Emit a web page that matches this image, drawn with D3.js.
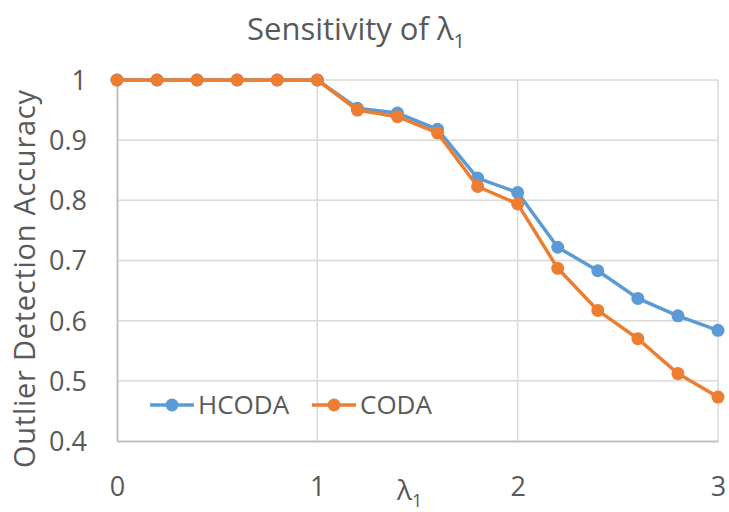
<!DOCTYPE html>
<html>
<head>
<meta charset="utf-8">
<script src="https://cdn.jsdelivr.net/npm/d3@7"></script>
<style>
  html, body { margin: 0; padding: 0; background: #fff; }
  svg { display: block; font-family: "Open Sans", "Lato", sans-serif; }
</style>
</head>
<body>
<svg id="chart" width="729" height="512"></svg>
<script>
// λ1 values swept on the x axis
const lambdaValues = [0, 0.2, 0.4, 0.6, 0.8, 1.0, 1.2, 1.4, 1.6, 1.8, 2.0, 2.2, 2.4, 2.6, 2.8, 3.0];
// Outlier detection accuracy per method
const hcodaAccuracy = [1, 1, 1, 1, 1, 1, 0.953, 0.945, 0.918, 0.837, 0.813, 0.722, 0.683, 0.637, 0.608, 0.584];
const codaAccuracy  = [1, 1, 1, 1, 1, 1, 0.950, 0.939, 0.912, 0.823, 0.794, 0.687, 0.617, 0.570, 0.512, 0.473];
const seriesNames = ["HCODA", "CODA"];
const xTicks = [0, 1, 2, 3];
const yTicks = [0.4, 0.5, 0.6, 0.7, 0.8, 0.9, 1];

const colors = { HCODA: "#5B9BD5", CODA: "#ED7D31" };
const textColor = "#595959";

const svg = d3.select("#chart");
const plot = { left: 117, right: 718, top: 80, bottom: 441 };

const x = d3.scaleLinear().domain([0, 3]).range([plot.left, plot.right]);
const y = d3.scaleLinear().domain([0.4, 1]).range([plot.bottom, plot.top]);

// Title with subscripted λ1
const title = svg.append("text")
  .attr("x", 356).attr("y", 40)
  .attr("text-anchor", "middle")
  .attr("fill", textColor)
  .attr("font-size", 31);
title.append("tspan").text("Sensitivity of λ");
title.append("tspan").attr("font-size", 20).attr("dy", 8).text("1");

// Horizontal gridlines
svg.append("g")
  .selectAll("line")
  .data(yTicks.filter(v => v > 0.4))
  .join("line")
  .attr("x1", plot.left).attr("x2", plot.right)
  .attr("y1", d => y(d)).attr("y2", d => y(d))
  .attr("stroke", "#D9D9D9").attr("stroke-width", 1.5);

// Vertical gridlines
svg.append("g")
  .selectAll("line")
  .data(xTicks.filter(v => v > 0))
  .join("line")
  .attr("x1", d => x(d)).attr("x2", d => x(d))
  .attr("y1", plot.top).attr("y2", plot.bottom)
  .attr("stroke", "#D9D9D9").attr("stroke-width", 1.5);

// Axes (lines only, labels styled separately)
const yAxis = d3.axisLeft(y).tickValues(yTicks).tickSize(0).tickPadding(30)
  .tickFormat(d => d3.format("")(+d.toFixed(1)));
const xAxis = d3.axisBottom(x).tickValues(xTicks).tickSize(0).tickPadding(36)
  .tickFormat(d3.format("d"));

const gy = svg.append("g").attr("transform", `translate(${plot.left},0)`).call(yAxis);
const gx = svg.append("g").attr("transform", `translate(0,${plot.bottom})`).call(xAxis);
[gx, gy].forEach(g => {
  g.select(".domain").attr("stroke", "#BFBFBF").attr("stroke-width", 2);
  g.selectAll(".tick text").attr("fill", textColor).attr("font-size", 27)
    .attr("font-family", "'Open Sans', sans-serif");
});
gy.selectAll(".tick text").attr("dy", "0.35em");

// X axis title λ1
const xTitle = svg.append("text")
  .attr("x", 397).attr("y", 500)
  .attr("fill", textColor)
  .attr("font-size", 28);
xTitle.append("tspan").text("λ");
xTitle.append("tspan").attr("font-size", 18).attr("dy", 7).text("1");

// Y axis title
svg.append("text")
  .attr("transform", `translate(35,${279}) rotate(-90)`)
  .attr("text-anchor", "middle")
  .attr("fill", textColor)
  .attr("font-size", 29)
  .attr("textLength", 378)
  .attr("lengthAdjust", "spacing")
  .text("Outlier Detection Accuracy");

// Series
const series = [
  { name: "HCODA", values: hcodaAccuracy },
  { name: "CODA", values: codaAccuracy }
];
const line = d3.line().x(d => x(d[0])).y(d => y(d[1]));

series.forEach(s => {
  const pts = lambdaValues.map((lv, i) => [lv, s.values[i]]);
  const g = svg.append("g");
  g.append("path")
    .attr("d", line(pts))
    .attr("fill", "none")
    .attr("stroke", colors[s.name])
    .attr("stroke-width", 3.5)
    .attr("stroke-linejoin", "round");
  g.selectAll("circle")
    .data(pts)
    .join("circle")
    .attr("cx", d => x(d[0])).attr("cy", d => y(d[1]))
    .attr("r", 6.5)
    .attr("fill", colors[s.name]);
});

// Legend inside plot area
const legendItems = [
  { name: seriesNames[0], x0: 150 },
  { name: seriesNames[1], x0: 312 }
];
const legendY = 405;
legendItems.forEach(it => {
  const g = svg.append("g");
  g.append("line")
    .attr("x1", it.x0).attr("x2", it.x0 + 44)
    .attr("y1", legendY).attr("y2", legendY)
    .attr("stroke", colors[it.name]).attr("stroke-width", 3.5);
  g.append("circle")
    .attr("cx", it.x0 + 22).attr("cy", legendY).attr("r", 6.5)
    .attr("fill", colors[it.name]);
  g.append("text")
    .attr("x", it.x0 + 48).attr("y", legendY)
    .attr("dy", "0.35em")
    .attr("fill", textColor)
    .attr("font-size", 26)
    .text(it.name);
});
</script>
</body>
</html>
